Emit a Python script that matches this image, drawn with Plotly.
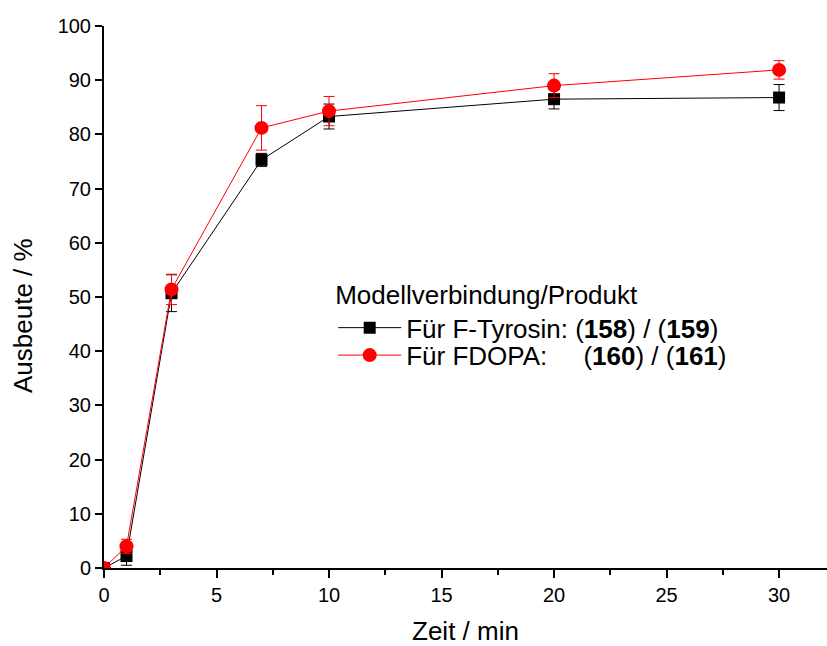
import plotly.graph_objects as go

# Reaction time in minutes
zeit = [0, 1, 3, 7, 10, 20, 30]

# F-Tyrosin model compound (158) / (159): yield and standard deviation
ausbeute_tyrosin = [0.0, 2.2, 50.7, 75.3, 83.3, 86.5, 86.8]
fehler_tyrosin = [0.0, 1.7, 3.4, 1.2, 2.3, 1.8, 2.4]

# FDOPA model compound (160) / (161): yield and standard deviation
ausbeute_fdopa = [0.0, 4.0, 51.4, 81.2, 84.3, 89.0, 91.9]
fehler_fdopa = [0.0, 1.3, 2.8, 4.1, 2.7, 2.2, 1.7]

name_tyrosin = "Für F-Tyrosin: (<b>158</b>) / (<b>159</b>)"
name_fdopa = "Für FDOPA:\u00a0\u00a0\u00a0\u00a0\u00a0(<b>160</b>) / (<b>161</b>)"

x_ticks = [0, 5, 10, 15, 20, 25, 30]
y_ticks = list(range(0, 101, 10))

FONT = "Liberation Sans, Arial, Helvetica, sans-serif"
LEG_FONT = dict(family=FONT, size=26, color="black")

fig = go.Figure()

fig.add_trace(go.Scatter(
    x=zeit, y=ausbeute_tyrosin,
    mode="lines+markers",
    name=name_tyrosin,
    legend="legend",
    line=dict(color="black", width=1),
    marker=dict(symbol="square", size=12, color="black"),
    error_y=dict(type="data", array=fehler_tyrosin, visible=True,
                 color="black", thickness=1, width=5.5),
))

fig.add_trace(go.Scatter(
    x=zeit, y=ausbeute_fdopa,
    mode="lines+markers",
    name=name_fdopa,
    legend="legend2",
    line=dict(color="#ff0000", width=1),
    marker=dict(symbol="circle", size=14, color="#ff0000"),
    error_y=dict(type="data", array=fehler_fdopa, visible=True,
                 color="#ff0000", thickness=1, width=5.5),
))

fig.update_layout(
    width=827, height=646,
    margin=dict(l=104, r=0, t=26, b=78),
    paper_bgcolor="white",
    plot_bgcolor="white",
    font=dict(family=FONT, color="black", size=20),
    showlegend=True,
    legend=dict(
        x=0.317, y=0.549, xanchor="left", yanchor="top",
        bgcolor="rgba(0,0,0,0)",
        font=LEG_FONT,
        title=dict(text="Modellverbindung/Produkt", font=LEG_FONT),
        itemwidth=63,
    ),
    legend2=dict(
        x=0.317, y=0.436, xanchor="left", yanchor="top",
        bgcolor="rgba(0,0,0,0)",
        font=LEG_FONT,
        itemwidth=63,
    ),
    xaxis=dict(
        range=[0, 32.13],
        tickvals=x_ticks,
        ticktext=[str(v) for v in x_ticks],
        ticks="outside", ticklen=8, tickwidth=2, tickcolor="black",
        minor=dict(dtick=2.5, tick0=0, ticks="outside", ticklen=5,
                   tickwidth=2, tickcolor="black", showgrid=False),
        showline=True, linewidth=2, linecolor="black",
        showgrid=False, zeroline=False,
        tickfont=dict(size=20),
        title=dict(text="Zeit / min", font=dict(size=26), standoff=17),
        automargin=False,
    ),
    yaxis=dict(
        range=[0, 100],
        tickvals=y_ticks,
        ticktext=[str(v) for v in y_ticks],
        ticks="outside", ticklen=7, tickwidth=2, tickcolor="black",
        showline=True, linewidth=2, linecolor="black",
        showgrid=False, zeroline=False,
        tickfont=dict(size=20),
        automargin=False,
    ),
    annotations=[dict(
        text="Ausbeute / %", textangle=-90,
        xref="paper", yref="paper", x=-0.112, y=0.465,
        xanchor="center", yanchor="middle", showarrow=False,
        font=dict(family=FONT, size=26, color="black"),
    )],
)

fig.write_html("out.html")
